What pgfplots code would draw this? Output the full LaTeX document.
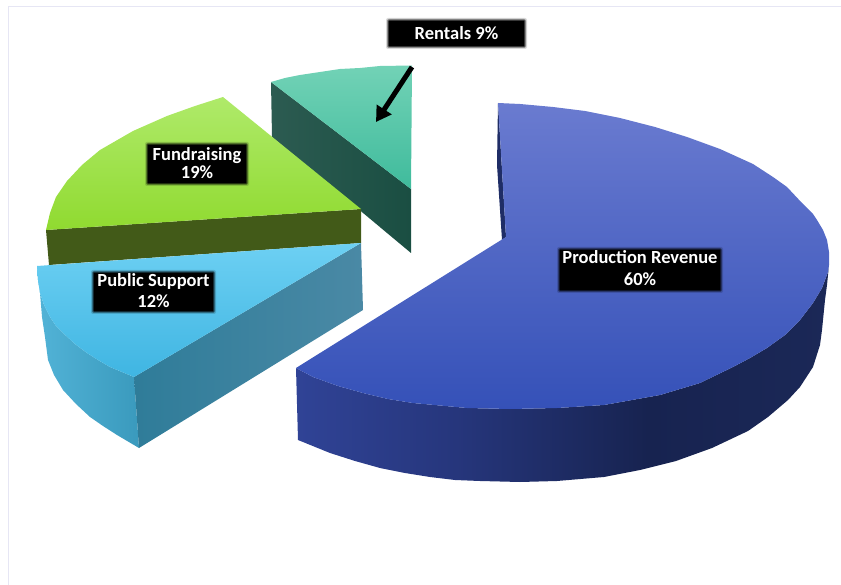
\documentclass[border=0pt]{standalone}
\usepackage{fontspec}
\setmainfont{Carlito}
\usepackage{pgfplots}
\pgfplotsset{compat=1.18}
\usetikzlibrary{arrows.meta}

\definecolor{frame}{HTML}{E6E6F4}
% outer wall of the big slice: colour runs unevenly left to right
\definecolor{bwA}{HTML}{304396}
\definecolor{bwB}{HTML}{26367C}
\definecolor{bwC}{HTML}{172350}
\definecolor{bwD}{HTML}{1B2857}
\pgfdeclarehorizontalshading{bluewall}{100bp}{color(0bp)=(bwA);color(25bp)=(bwA);color(40bp)=(bwB);color(58bp)=(bwC);color(75bp)=(bwD);color(100bp)=(bwD)}

\definecolor{bluetopA}{HTML}{6A7BD0}
\definecolor{bluetopM}{HTML}{4560C8}
\definecolor{bluetopB}{HTML}{3551B8}
\definecolor{bluein}{HTML}{1F2D66}
\definecolor{tealtopA}{HTML}{72D2B6}
\definecolor{tealtopM}{HTML}{55CCAF}
\definecolor{tealtopB}{HTML}{3FBB9C}
\definecolor{tealwallA}{HTML}{2C5B51}
\definecolor{tealwallB}{HTML}{1A4E42}
\definecolor{greentopA}{HTML}{AFEA6A}
\definecolor{greentopM}{HTML}{A2E748}
\definecolor{greentopB}{HTML}{90DA30}
\definecolor{greenwall}{HTML}{425A18}
\definecolor{skytopA}{HTML}{6DD0F3}
\definecolor{skytopM}{HTML}{58C9F6}
\definecolor{skytopB}{HTML}{3FB5E2}
\definecolor{skyoutA}{HTML}{52B3D7}
\definecolor{skyoutB}{HTML}{3A9ABD}
\definecolor{skycutA}{HTML}{2F7C99}
\definecolor{skycutB}{HTML}{4A89A5}

% black label box with soft edge; #5 is the y of the text centre
\newcommand{\lbl}[6]{%
  \fill[black,opacity=.15,rounded corners=2pt] (axis cs:#1-1,#2-1) rectangle (axis cs:#3+1,#4+1);
  \fill[black,opacity=.35,rounded corners=2pt] (axis cs:#1,#2) rectangle (axis cs:#3,#4);
  \fill[black,opacity=.6,rounded corners=1pt] (axis cs:#1+1,#2+1) rectangle (axis cs:#3-1,#4-1);
  \fill[black] (axis cs:#1+2,#2+2) rectangle (axis cs:#3-2,#4-2);
  \node[text=white,align=center,font=\fontsize{18.5}{21.5}\selectfont\bfseries,inner sep=0pt] at (axis cs:{(#1+#3)/2},#5) {#6};
}

\begin{document}
\begin{tikzpicture}
\begin{axis}[
    scale only axis,
    width=841pt, height=585pt,
    xmin=0, xmax=841,
    ymin=0, ymax=585,
    y dir=reverse,
    hide axis,
]
\path (axis cs:0,0) rectangle (axis cs:841,585);

% page frame
\addplot[color=frame, line width=1pt] coordinates {(8,585)(8,7)(841,7)};

% Production Revenue 60%
\addplot[draw=none, fill=bluein] coordinates {(498,103)(497,165)(502,240)(506,237)} --cycle;
\addplot[draw=none, shade, shading=bluewall] coordinates {
  (829,265)(828,272)(822,288)(813,303)(800,320)(785,335)(767,348)(750,358)(733,367)(700,383)
  (660,395)(604,405)(557,408)(510,409)(467,408)(413,403)(388,399)(363,393)(338,386)(313,377)(296,368)
  (298,440)(330,453)(355,461)(380,468)(405,473)(430,477)(455,480)(480,481)(520,482)(557,481)(604,477)(640,470)
  (676,461)(712,448)(748,431)(768,417)(788,400)(800,387)(813,367)(820,345)(822,330)(823,320)(825,300)(827,285)
} --cycle;
\addplot[draw=none, top color=bluetopA, middle color=bluetopM, bottom color=bluetopB] coordinates {
  (498,103)(520,104)(553,107)(585,111)(620,118)(655,127)(687,137)(720,149)(753,164)(773,177)
  (787,187)(802,203)(813,214)(817,220)(823,230)(827,240)(829,252)(829,265)
  (828,272)(822,288)(813,303)(800,320)(785,335)(767,348)(750,358)(733,367)(700,383)
  (660,395)(604,405)(557,408)(510,409)(467,408)(413,403)(388,399)(363,393)(338,386)(313,377)(296,368)(506,237)
} --cycle;

% Rentals 9%
\addplot[draw=none, left color=tealwallA, right color=tealwallB] coordinates {(271,82)(411,189)(411,253)(272,137)} --cycle;
\addplot[draw=none, top color=tealtopA, middle color=tealtopM, bottom color=tealtopB] coordinates {
  (271,82)(285,78)(300,75)(320,72)(340,69)(360,68)(380,66)(412,65.5)(411,189)
} --cycle;

% Fundraising 19%
\addplot[draw=none, fill=greenwall] coordinates {(46,230)(361,209)(361,243)(49,265)} --cycle;
\addplot[draw=none, top color=greentopA, middle color=greentopM, bottom color=greentopB] coordinates {
  (223,97)(195,106)(167,116)(133,131)(100,150)(82,165)(67,181)(56,197)(50,213)(46,230)(361,209)
} --cycle;

% Public Support 12%
\addplot[draw=none, left color=skyoutA, right color=skyoutB] coordinates {
  (37,266)(38,280)(40,293)(44,305)(50,317)(56,326)(63,333)(75,344)(87,353)(98,360)(110,367)(134,377)
  (139,448)(117,435)(103,426)(90,417)(76,404)(63,390)(54,375)(48,360)(45,337)(42,317)(40,293)
} --cycle;
\addplot[draw=none, left color=skycutA, right color=skycutB] coordinates {(134,377)(361,243)(363,310)(139,448)} --cycle;
\addplot[draw=none, top color=skytopA, middle color=skytopM, bottom color=skytopB] coordinates {
  (37,266)(38,280)(40,293)(44,305)(50,317)(56,326)(63,333)(75,344)(87,353)(98,360)(110,367)(134,377)(361,243)
} --cycle;

% arrow to the Rentals slice
\addplot[black, line width=5pt, -{Triangle[width=17pt,length=15pt]}] coordinates {(412,67)(376,122)};

\lbl{387}{19}{526}{48}{33}{Rentals 9\%}
\lbl{146}{143}{248}{185}{163.5}{Fundraising\\[-3.5pt]19\%}
\lbl{92}{271}{215}{313}{290.5}{Public Support\\12\%}
\lbl{558}{248}{722}{292}{268}{Production Revenue\\60\%}
\end{axis}
\end{tikzpicture}
\end{document}
